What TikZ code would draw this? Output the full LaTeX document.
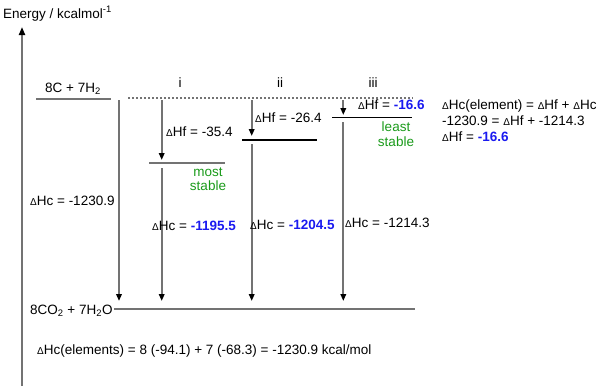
\documentclass[tikz,border=0pt]{standalone}
\usepackage{fontspec}
\setmainfont{Liberation Sans}
\usetikzlibrary{arrows.meta}
\definecolor{lg}{HTML}{737373}
\definecolor{vb}{HTML}{1A1AF0}
\definecolor{gg}{HTML}{1A9A1A}
\newcommand{\dH}{{\fontsize{10}{10}\selectfont Δ}}
\tikzset{
  txt/.style={anchor=base west,inner sep=0pt,font=\fontsize{13.5}{15}\selectfont},
  ctxt/.style={anchor=base,inner sep=0pt,font=\fontsize{13.5}{15}\selectfont},
  arr/.style={draw=lg,line width=2pt,-{Triangle[length=7pt,width=5.5pt,color=black]}},
  lvl/.style={draw=lg,line width=2pt},
  blvl/.style={draw=black,line width=1.5pt},
  ax/.style={draw=lg,line width=2pt,-{Triangle[length=8pt,width=6pt,color=black]}}
}
\begin{document}
\begin{tikzpicture}[x=1pt,y=-1pt]
\useasboundingbox (0,0) rectangle (602,386);
% axis
\coordinate (axb) at (22,386);
\coordinate (axt) at (22,27);
\draw[ax] (axb) -- (axt);
\node[txt] (elab) at (3,18) {Energy / kcalmol\textsuperscript{-1}};
% top level
\coordinate (tl1) at (36,99);
\coordinate (tl2) at (111,99);
\draw[lvl] (tl1) -- (tl2);
\node[ctxt] (tlab) at (73,92.5) {8C + 7H\textsubscript{2}};
\coordinate (d1) at (128,98);
\coordinate (d2) at (413,98);
\draw[lg,line width=1.2pt,dash pattern=on 2pt off 2pt] (d1) -- (d2);
% labels i ii iii
\node[ctxt] (li) at (180,87) {i};
\node[ctxt] (lii) at (280,87) {ii};
\node[ctxt] (liii) at (373,87) {iii};
% bottom level
\coordinate (bl1) at (114,308.5);
\coordinate (bl2) at (415,308.5);
\draw[lvl] (bl1) -- (bl2);
\node[txt] (blab) at (30,314) {8CO\textsubscript{2} + 7H\textsubscript{2}O};
% level i
\coordinate (i1) at (149,163);
\coordinate (i2) at (225,163);
\draw[lvl] (i1) -- (i2);
% level ii
\coordinate (ii1) at (242,140);
\coordinate (ii2) at (317,140);
\draw[blvl] (ii1) -- (ii2);
% level iii
\coordinate (iii1) at (332,117.5);
\coordinate (iii2) at (412,117.5);
\draw[blvl] (iii1) -- (iii2);
% arrows
\coordinate (a0t) at (119,100);
\coordinate (a0b) at (119,301);
\draw[arr] (a0t) -- (a0b);
\coordinate (fit) at (161.7,100);
\coordinate (fib) at (161.7,160);
\draw[arr] (fit) -- (fib);
\coordinate (cit) at (161.7,168);
\coordinate (cib) at (161.7,301);
\draw[arr] (cit) -- (cib);
\coordinate (fiit) at (251.7,100);
\coordinate (fiib) at (251.7,136);
\draw[arr] (fiit) -- (fiib);
\coordinate (ciit) at (251.7,144);
\coordinate (ciib) at (251.7,301);
\draw[arr] (ciit) -- (ciib);
\coordinate (fiiit) at (343.3,100);
\coordinate (fiiib) at (343.3,115);
\draw[arr] (fiiit) -- (fiiib);
\coordinate (ciiit) at (343.3,122);
\coordinate (ciiib) at (343.3,301);
\draw[arr] (ciiit) -- (ciiib);
% DeltaHf labels
\node[txt] (hfi) at (166,136.5) {\dH Hf = -35.4};
\node[txt] (hfii) at (255,122) {\dH Hf = -26.4};
\node[txt] (hfiii) at (358,109) {\dH Hf = \textcolor{vb}{\textbf{-16.6}}};
% stability labels
\node[ctxt,text=gg] (most) at (208,176) {most};
\node[ctxt,text=gg] (mostb) at (208,190.5) {stable};
\node[ctxt,text=gg] (least) at (396,131) {least};
\node[ctxt,text=gg] (leastb) at (396,146) {stable};
% DeltaHc labels
\node[txt] (hc0) at (30,205) {\dH Hc = -1230.9};
\node[txt] (hci) at (152,230) {\dH Hc = \textcolor{vb}{\textbf{-1195.5}}};
\node[txt] (hcii) at (250,229) {\dH Hc = \textcolor{vb}{\textbf{-1204.5}}};
\node[txt] (hciii) at (345,227.5) {\dH Hc = -1214.3};
% right block
\node[txt] (r1) at (442,109.3) {\dH Hc(element) = \dH Hf + \dH Hc};
\node[txt] (r2) at (442,125) {-1230.9 = \dH Hf + -1214.3};
\node[txt] (r3) at (442,141) {\dH Hf = \textcolor{vb}{\textbf{-16.6}}};
% bottom formula
\node[txt] (bf) at (37,354) {\dH Hc(elements) = 8 (-94.1) + 7 (-68.3) = -1230.9 kcal/mol};
\end{tikzpicture}
\end{document}
